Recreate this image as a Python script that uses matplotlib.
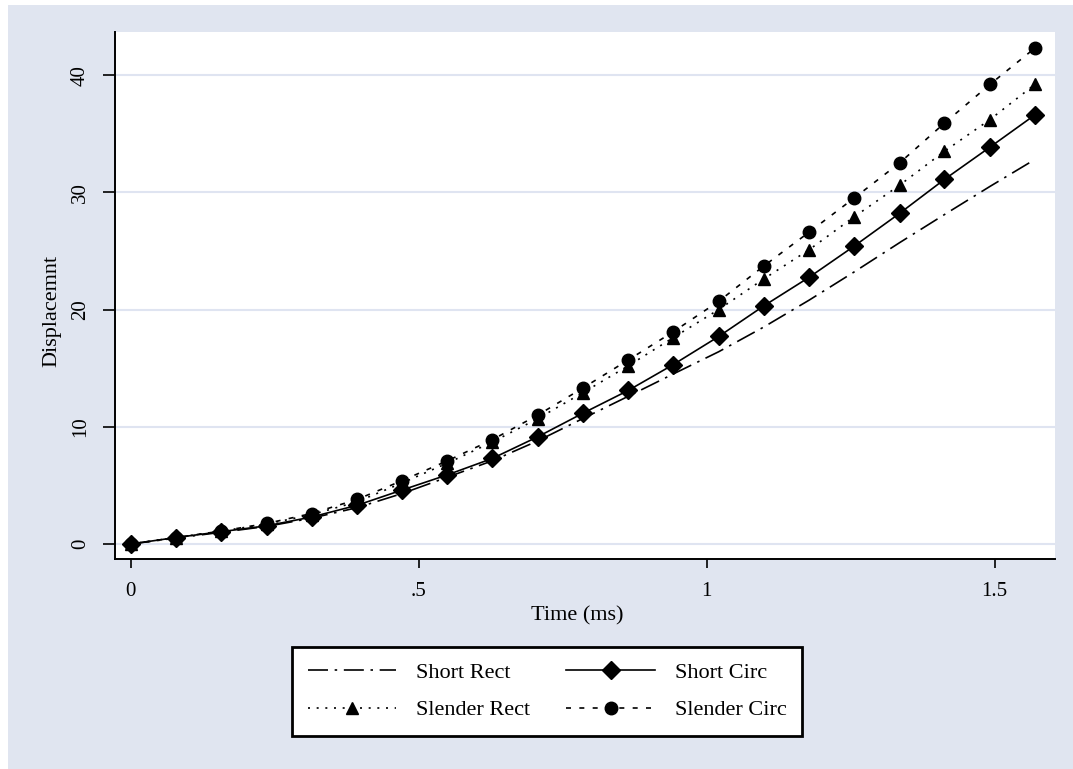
import matplotlib.pyplot as plt
from matplotlib.patches import Rectangle

# time steps (ms)
time = [0, 0.0785, 0.157, 0.236, 0.314, 0.393, 0.471, 0.55, 0.628, 0.707, 0.785,
        0.864, 0.942, 1.021, 1.099, 1.178, 1.256, 1.335, 1.413, 1.492, 1.57]

short_rect = [0, 0.5, 1.0, 1.5, 2.2, 3.1, 4.3, 5.7, 7.1, 8.8, 10.7,
              12.6, 14.5, 16.4, 18.5, 20.8, 23.2, 25.7, 28.1, 30.5, 32.8]
short_circ = [0, 0.55, 1.05, 1.55, 2.3, 3.3, 4.6, 5.9, 7.3, 9.15, 11.15,
              13.1, 15.3, 17.7, 20.3, 22.75, 25.4, 28.2, 31.1, 33.85, 36.6]
slender_rect = [0, 0.55, 1.1, 1.7, 2.5, 3.6, 5.2, 6.9, 8.7, 10.7, 12.9,
                15.2, 17.6, 20.0, 22.6, 25.1, 27.9, 30.6, 33.5, 36.2, 39.2]
slender_circ = [0, 0.55, 1.1, 1.75, 2.6, 3.8, 5.4, 7.1, 8.9, 11.0, 13.3,
                15.7, 18.1, 20.7, 23.7, 26.6, 29.5, 32.5, 35.9, 39.2, 42.3]

xticks = [0, 0.5, 1, 1.5]
xtick_labels = ["0", ".5", "1", "1.5"]
yticks = [0, 10, 20, 30, 40]

plt.rcParams['font.family'] = ['Liberation Serif', 'DejaVu Serif']

bg = '#e0e5f0'
fig = plt.figure(figsize=(10.73, 7.69), dpi=100)
fig.patches.append(Rectangle((8 / 1073, 0), 1, 1 - 5 / 769, transform=fig.transFigure,
                             facecolor=bg, edgecolor='none', zorder=-5))

ax = fig.add_axes([115 / 1073, 210 / 769, 940 / 1073, 527.3 / 769])
ax.set_facecolor('white')

l1, = ax.plot(time, short_rect, color='black', lw=1.2, dashes=(12, 4, 1.5, 4))
l2, = ax.plot(time, short_circ, color='black', lw=1.2, marker='D', ms=9)
l3, = ax.plot(time, slender_rect, color='black', lw=1.2, dashes=(1.2, 4), marker='^', ms=9)
l4, = ax.plot(time, slender_circ, color='black', lw=1.2, dashes=(3, 5), marker='o', ms=9)

ax.set_xlim(-0.0273, 1.605)
ax.set_ylim(-1.28, 43.7)
ax.set_xticks(xticks)
ax.set_xticklabels(xtick_labels)
ax.set_yticks(yticks)
ax.tick_params(axis='x', direction='out', length=6.5, width=1.2, pad=10, labelsize=15)
ax.tick_params(axis='y', direction='out', length=9, width=1.2, pad=9, labelsize=15)
for lab in ax.get_yticklabels():
    lab.set_rotation(90)
    lab.set_va('center')
ax.grid(axis='y', color='#dfe4f1', lw=1.5)
ax.set_axisbelow(True)
for s in ['top', 'right']:
    ax.spines[s].set_visible(False)
for s in ['left', 'bottom']:
    ax.spines[s].set_linewidth(1.4)

ax.set_xlabel("Time (ms)", fontsize=16, labelpad=4)
ax.set_ylabel("Displacemnt", fontsize=16, labelpad=7)
ax.xaxis.label.set_x(0.492)
ax.yaxis.label.set_y(0.47)

leg = fig.legend([l1, l3, l2, l4], ["Short Rect", "Slender Rect", "Short Circ", "Slender Circ"],
                 ncol=2, loc='upper left', bbox_to_anchor=(292 / 1073, 1 - 647 / 769),
                 borderaxespad=0, fontsize=16, frameon=True, fancybox=False,
                 edgecolor='black', facecolor='white', framealpha=1,
                 handlelength=4.0, handletextpad=0.9, columnspacing=1.6, borderpad=0.7,
                 labelspacing=0.75)
leg.get_frame().set_linewidth(2)

fig.savefig("out.png", dpi=100)
